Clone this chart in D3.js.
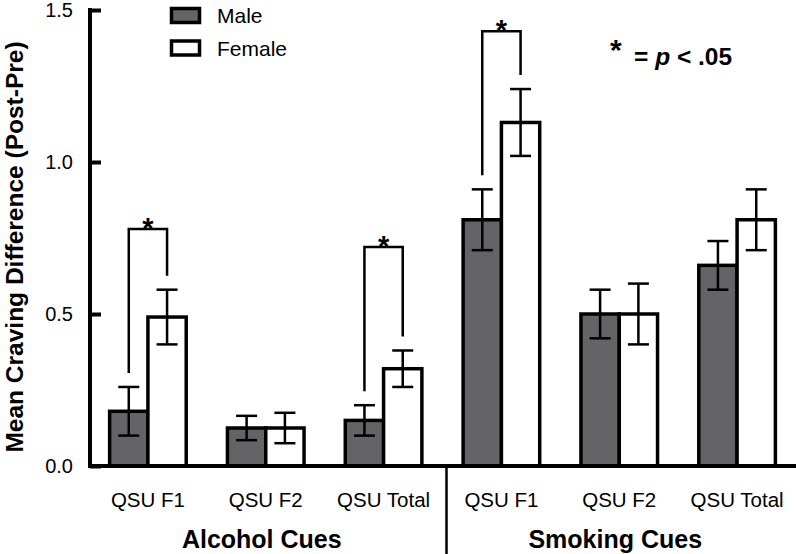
<!DOCTYPE html>
<html>
<head>
<meta charset="utf-8">
<script src="https://cdn.jsdelivr.net/npm/d3@7"></script>
<style>
  body { margin: 0; background: #fff; }
  svg { display: block; font-family: "Liberation Sans", Arial, sans-serif; }
</style>
</head>
<body>
<div id="container"></div>
<script>
// data
const categories = ["QSU F1", "QSU F2", "QSU Total", "QSU F1", "QSU F2", "QSU Total"];
const groups = ["Alcohol Cues", "Smoking Cues"];
const maleMean = [0.18, 0.125, 0.15, 0.81, 0.50, 0.66];
const maleSE = [0.08, 0.04, 0.05, 0.10, 0.08, 0.08];
const femaleMean = [0.49, 0.125, 0.32, 1.13, 0.50, 0.81];
const femaleSE = [0.09, 0.05, 0.06, 0.11, 0.10, 0.10];
const sigIndex = [0, 2, 3];       // categories with a significant sex difference
const sigTop = [0.78, 0.72, 1.43]; // height of bracket
const yTicks = [0, 0.5, 1.0, 1.5];

const w = 796;
const h = 554;
const x0 = 89, baseY = 466, topY = 10;

const svg = d3.select("#container").append("svg")
    .attr("width", w)
    .attr("height", h);

const x = d3.scaleBand()
    .domain(d3.range(categories.length))
    .range([x0, w])
    .paddingInner(0.35)
    .paddingOuter(0.175);

const y = d3.scaleLinear()
    .domain([0, 1.5])
    .range([baseY, topY]);

const bw = x.bandwidth() / 2;

const rows = [];
categories.forEach((c, i) => {
    rows.push({ i: i, sex: "m", mean: maleMean[i], se: maleSE[i], cx: x(i) + bw / 2, left: x(i) });
    rows.push({ i: i, sex: "f", mean: femaleMean[i], se: femaleSE[i], cx: x(i) + bw * 1.5, left: x(i) + bw });
});

// bars
svg.selectAll(".bar")
    .data(rows)
    .enter().append("rect")
    .attr("class", "bar")
    .attr("x", d => d.left)
    .attr("y", d => y(d.mean))
    .attr("width", bw)
    .attr("height", d => baseY - y(d.mean))
    .attr("fill", d => d.sex == "m" ? "#646466" : "#fff")
    .attr("stroke", "#000")
    .attr("stroke-width", 3.5);

// error bars
const cap = 10.5;
const err = svg.append("g").attr("stroke", "#000").attr("stroke-width", 2.5);
rows.forEach(d => {
    err.append("line")
        .attr("x1", d.cx).attr("x2", d.cx)
        .attr("y1", y(d.mean - d.se)).attr("y2", y(d.mean + d.se));
    [d.mean - d.se, d.mean + d.se].forEach(v => {
        err.append("line")
            .attr("x1", d.cx - cap).attr("x2", d.cx + cap)
            .attr("y1", y(v)).attr("y2", y(v));
    });
});

// significance brackets
const gap = 14;
sigIndex.forEach((ci, k) => {
    const m = rows.find(r => r.i == ci && r.sex == "m");
    const f = rows.find(r => r.i == ci && r.sex == "f");
    const ty = y(sigTop[k]);
    svg.append("path")
        .attr("d", `M${m.cx},${y(m.mean + m.se) - gap}V${ty}H${f.cx}V${y(f.mean + f.se) - gap}`)
        .attr("fill", "none")
        .attr("stroke", "#000")
        .attr("stroke-width", 2.5);
    svg.append("text")
        .attr("x", (m.cx + f.cx) / 2)
        .attr("y", ty + 9)
        .attr("text-anchor", "middle")
        .style("font-size", "29px")
        .style("font-weight", "bold")
        .text("*");
});

// y axis
const yAxis = svg.append("g")
    .attr("transform", `translate(${x0 + 1},0)`)
    .call(d3.axisLeft(y).tickValues(yTicks).tickFormat(d3.format(".1f"))
        .tickSizeInner(-11).tickSizeOuter(0).tickPadding(17));
yAxis.select(".domain").remove();
yAxis.selectAll(".tick line").attr("stroke", "#000").attr("stroke-width", 4);
yAxis.selectAll(".tick text")
    .attr("fill", "#000")
    .style("font-size", "20px")
    .style("font-family", "'Liberation Sans', Arial, sans-serif");
svg.append("line")
    .attr("x1", x0 + 1).attr("x2", x0 + 1)
    .attr("y1", topY - 2).attr("y2", baseY + 2)
    .attr("stroke", "#000").attr("stroke-width", 4);

// x axis
svg.append("line")
    .attr("x1", x0 - 1).attr("x2", w)
    .attr("y1", baseY).attr("y2", baseY)
    .attr("stroke", "#000").attr("stroke-width", 4);

svg.selectAll(".cat")
    .data(categories)
    .enter().append("text")
    .attr("class", "cat")
    .attr("x", (d, i) => x(i) + x.bandwidth() / 2)
    .attr("y", 507)
    .attr("text-anchor", "middle")
    .style("font-size", "20.5px")
    .text(d => d);

// divider between cue types
const divX = x0 + x.step() * 3 + 4;
svg.append("line")
    .attr("x1", divX).attr("x2", divX)
    .attr("y1", baseY).attr("y2", h)
    .attr("stroke", "#000").attr("stroke-width", 2.5);

svg.selectAll(".group")
    .data(groups)
    .enter().append("text")
    .attr("class", "group")
    .attr("x", (d, i) => x0 + x.step() * (1.5 + 3 * i) - 4)
    .attr("y", 548)
    .attr("text-anchor", "middle")
    .style("font-size", "25px")
    .style("font-weight", "bold")
    .text(d => d);

// y label
svg.append("text")
    .attr("transform", `translate(23,${(baseY + 28) / 2}) rotate(-90)`)
    .attr("text-anchor", "middle")
    .style("font-size", "24.5px")
    .style("font-weight", "bold")
    .text("Mean Craving Difference (Post-Pre)");

// legend
const legend = [["Male", "#646466"], ["Female", "#fff"]];
legend.forEach((l, i) => {
    svg.append("rect")
        .attr("x", 171.5).attr("y", 8.5 + i * 32.5)
        .attr("width", 28).attr("height", 14)
        .attr("fill", l[1]).attr("stroke", "#000").attr("stroke-width", 3.5);
    svg.append("text")
        .attr("x", 217).attr("y", 23 + i * 33)
        .style("font-size", "21px")
        .text(l[0]);
});

// p-value note
svg.append("text")
    .attr("x", 610).attr("y", 60)
    .style("font-size", "30px").style("font-weight", "bold")
    .text("*");
const note = svg.append("text")
    .attr("x", 634).attr("y", 65)
    .style("font-size", "24.5px").style("font-weight", "bold");
note.append("tspan").text("= ");
note.append("tspan").style("font-style", "italic").text("p");
note.append("tspan").text(" < .05");
</script>
</body>
</html>
